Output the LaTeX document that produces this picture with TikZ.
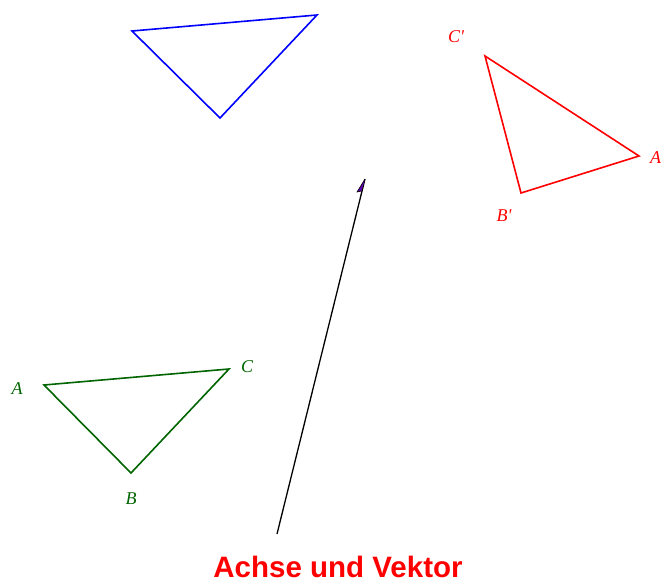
\documentclass[tikz,border=0pt]{standalone}
\usepackage{fontspec}
\setmainfont{Liberation Serif}
\newfontfamily\titlefont{Liberation Sans}
\definecolor{gr}{RGB}{0,100,0}
\definecolor{arrowfill}{RGB}{90,0,170}
\begin{document}
\begin{tikzpicture}[x=1pt,y=-1pt,
  tri/.style={line width=1.6pt,line join=miter},
  lab/.style={font=\fontsize{18}{20}\selectfont\itshape,inner sep=0pt}]
\useasboundingbox (0,0) rectangle (664,581);
% green triangle
\coordinate (gA) at (44,385);
\coordinate (gB) at (131,473);
\coordinate (gC) at (229,369);
\draw[tri,gr] (gA) -- (gB) -- (gC) -- cycle;
\node[lab,gr] (lA) at (17,389) {A};
\node[lab,gr] (lB) at (131,499) {B};
\node[lab,gr] (lC) at (247,367) {C};
% blue triangle
\coordinate (b1) at (132,31);
\coordinate (b2) at (220,118);
\coordinate (b3) at (317,15);
\draw[tri,blue] (b1) -- (b2) -- (b3) -- cycle;
% red triangle
\coordinate (rC) at (485,56);
\coordinate (rB) at (521,193);
\coordinate (rA) at (639,156);
\draw[tri,red] (rC) -- (rB) -- (rA) -- cycle;
\node[lab,red] (lrC) at (456,37) {C\textquotesingle};
\node[lab,red] (lrB) at (504,216) {B\textquotesingle};
\node[lab,red,anchor=west] (lrA) at (650,158) {A};
% vector
\coordinate (v0) at (277,534);
\coordinate (v1) at (365,179);
\draw[line width=1.3pt] (v0) -- (v1);
\fill[arrowfill] (v1) -- (357,192) -- (361.5,191) -- cycle;
\draw[line width=0.6pt] (v1) -- (357,192) -- (361.5,191);
% title
\node[text=red,font=\titlefont\bfseries\fontsize{29.5}{33}\selectfont,inner sep=0pt,anchor=base] (title) at (338,577) {Achse und Vektor};
\end{tikzpicture}
\end{document}
